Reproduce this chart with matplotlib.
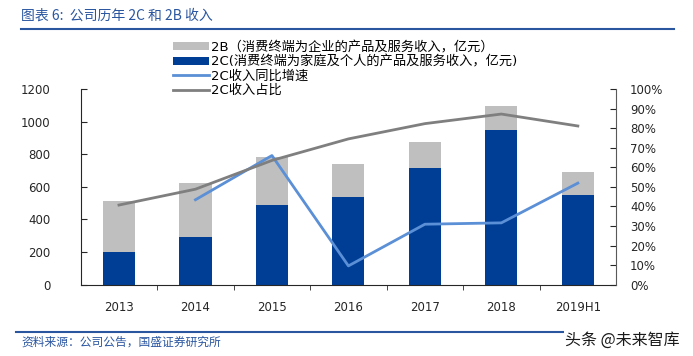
import matplotlib
matplotlib.use("Agg")
import matplotlib.pyplot as plt
from matplotlib.lines import Line2D
from matplotlib.patches import Patch
from matplotlib.ticker import FuncFormatter, MultipleLocator
import numpy as np

plt.rcParams['font.family'] = ['DejaVu Sans', 'Noto Sans CJK SC']

# --- 数据 ---
years = ['2013', '2014', '2015', '2016', '2017', '2018', '2019H1']
rev_2c = [200, 292, 490, 539, 715, 946, 551]          # 亿元
rev_2b = [315, 330, 296, 201, 162, 150, 138]          # 亿元
growth_2c = [np.nan, 0.434, 0.66, 0.096, 0.309, 0.316, 0.519]
share_2c = [0.407, 0.488, 0.635, 0.745, 0.823, 0.872, 0.811]

C_2C = '#003e96'
C_2B = '#bfbfbf'
C_GROWTH = '#5b8fd6'
C_SHARE = '#7f7f7f'
C_TITLE = '#2a56a0'

fig = plt.figure(figsize=(6.93, 3.56), dpi=100)
ax = fig.add_axes([0.1165, 0.2003, 0.7725, 0.5497])
x = np.arange(len(years))
w = 0.42

ax.bar(x, rev_2c, width=w, color=C_2C, zorder=2)
ax.bar(x, rev_2b, width=w, bottom=rev_2c, color=C_2B, zorder=2)
ax.set_xlim(-0.5, len(years) - 0.5)
ax.set_ylim(0, 1200)
ax.yaxis.set_major_locator(MultipleLocator(200))
ax.set_xticks(x)
ax.set_xticklabels(years)
ax.set_xticks(np.arange(0.5, len(years) - 1, 1), minor=True)
ax.tick_params(axis='x', which='major', length=0, pad=12, labelsize=8.5, colors='#262626')
ax.tick_params(axis='x', which='minor', length=3.5, direction='out', color='#262626')
ax.tick_params(axis='y', direction='in', length=4, labelsize=8.5, colors='#262626', pad=22)
ax.spines['top'].set_visible(False)
ax.spines['right'].set_visible(False)
ax.spines['left'].set_color('#262626')
ax.spines['bottom'].set_color('#262626')

ax2 = ax.twinx()
ax2.plot(x, growth_2c, color=C_GROWTH, lw=2, zorder=3)
ax2.plot(x, share_2c, color=C_SHARE, lw=2, zorder=3)
ax2.set_ylim(0, 1)
ax2.yaxis.set_major_locator(MultipleLocator(0.1))
ax2.yaxis.set_major_formatter(FuncFormatter(lambda v, p: f"{v*100:.0f}%"))
ax2.tick_params(axis='y', direction='in', length=4, labelsize=8.5, colors='#262626', pad=10)
ax2.spines['top'].set_visible(False)
ax2.spines['left'].set_visible(False)
ax2.spines['bottom'].set_visible(False)
ax2.spines['right'].set_color('#595959')

handles = [
    Patch(facecolor=C_2B, edgecolor='none'),
    Patch(facecolor=C_2C, edgecolor='none'),
    Line2D([], [], color=C_GROWTH, lw=2),
    Line2D([], [], color=C_SHARE, lw=2),
]
labels = [
    '2B（消费终端为企业的产品及服务收入，亿元）',
    '2C(消费终端为家庭及个人的产品及服务收入，亿元)',
    '2C收入同比增速',
    '2C收入占比',
]
fig.legend(handles, labels, loc='upper left', bbox_to_anchor=(173 / 693, 1 - 41 / 356),
           frameon=False, fontsize=9.5, handlelength=2.7, handleheight=0.55,
           handletextpad=0.2, labelspacing=0.1, borderaxespad=0, borderpad=0)

# 标题、来源
fig.text(21 / 693, 1 - 16 / 356, '图表 6:  公司历年 2C 和 2B 收入', fontsize=10,
         color=C_TITLE, va='center', ha='left', family=['Noto Sans CJK SC', 'DejaVu Sans'])
fig.add_artist(Line2D([21 / 693, 674 / 693], [1 - 29 / 356] * 2, color=C_TITLE, lw=1.5))
fig.add_artist(Line2D([16 / 693, 674 / 693], [1 - 332 / 356] * 2, color=C_TITLE, lw=1.5))
fig.text(21 / 693, 1 - 342 / 356, '资料来源：公司公告，国盛证券研究所', fontsize=8.5,
         color=C_TITLE, va='center', ha='left', family=['Noto Sans CJK SC', 'DejaVu Sans'])
fig.text(680 / 693, 1 - 340 / 356, '头条 @未来智库', fontsize=11.5, color='#1a1a1a',
         va='center', ha='right', family=['Noto Sans CJK SC', 'DejaVu Sans'],
         bbox=dict(facecolor='white', edgecolor='none', pad=1))

fig.savefig('out.png', dpi=100)
